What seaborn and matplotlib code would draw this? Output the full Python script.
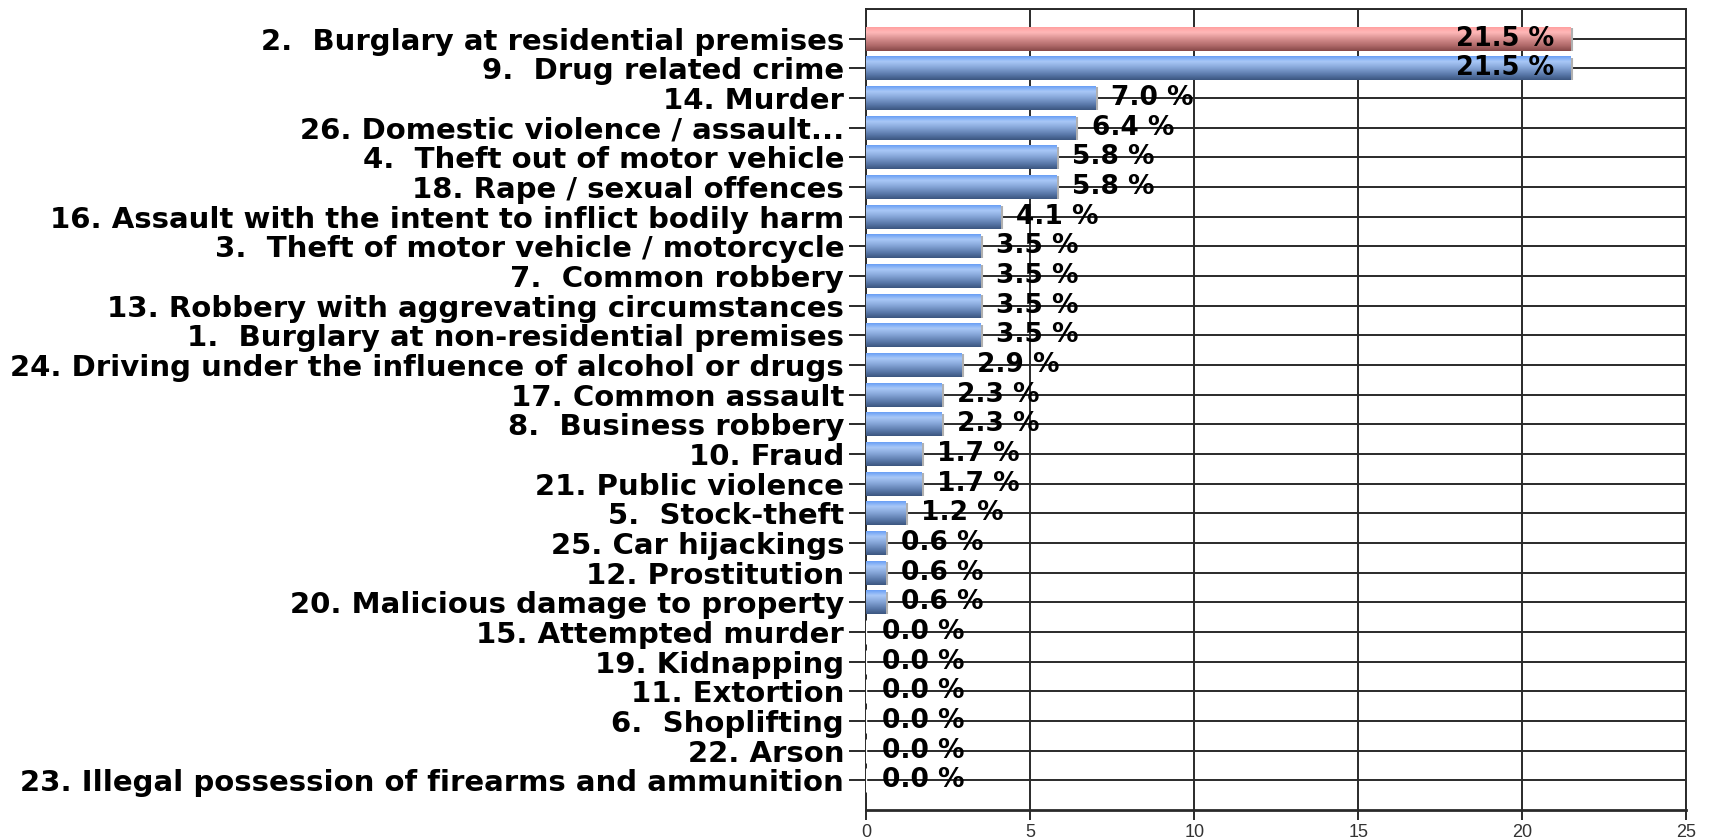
import numpy as np
import pandas as pd
import matplotlib
matplotlib.use("Agg")
import matplotlib.pyplot as plt
from matplotlib.colors import to_rgb
import seaborn as sns

categories = [
    "2.  Burglary at residential premises",
    "9.  Drug related crime",
    "14. Murder",
    "26. Domestic violence / assault...",
    "4.  Theft out of motor vehicle",
    "18. Rape / sexual offences",
    "16. Assault with the intent to inflict bodily harm",
    "3.  Theft of motor vehicle / motorcycle",
    "7.  Common robbery",
    "13. Robbery with aggrevating circumstances",
    "1.  Burglary at non-residential premises",
    "24. Driving under the influence of alcohol or drugs",
    "17. Common assault",
    "8.  Business robbery",
    "10. Fraud",
    "21. Public violence",
    "5.  Stock-theft",
    "25. Car hijackings",
    "12. Prostitution",
    "20. Malicious damage to property",
    "15. Attempted murder",
    "19. Kidnapping",
    "11. Extortion",
    "6.  Shoplifting",
    "22. Arson",
    "23. Illegal possession of firearms and ammunition",
]
values = [21.5, 21.5, 7.0, 6.4, 5.8, 5.8, 4.1, 3.5, 3.5, 3.5, 3.5, 2.9, 2.3, 2.3,
          1.7, 1.7, 1.2, 0.6, 0.6, 0.6, 0.0, 0.0, 0.0, 0.0, 0.0, 0.0]
highlighted = ["2.  Burglary at residential premises"]
x_ticks = [0, 5, 10, 15, 20, 25]

df = pd.DataFrame({"category": categories, "value": values})
df["group"] = ["hi" if c in highlighted else "lo" for c in categories]

sns.set_style("white")
plt.rcParams["font.family"] = ["DejaVu Sans"]

fig = plt.figure(figsize=(17.09, 8.40), dpi=100)
ax = fig.add_axes([0.507, 0.0357, 0.4795, 0.9536])

palette = {"hi": "#e07a7a", "lo": "#5b86cc"}
sns.barplot(data=df, x="value", y="category", hue="group", palette=palette,
            orient="h", width=0.81, dodge=False, legend=False, ax=ax, zorder=3)

grad_blue = ["#5d97f5", "#a9c8f7", "#86a6d8", "#5a79aa", "#3b5680"]
grad_red = ["#ff9c9c", "#ffb8b8", "#d89090", "#b06a6a", "#874848"]

def make_grad(stops, n=64):
    cols = np.array([to_rgb(c) for c in stops])
    pos = np.array([0.0, 0.25, 0.5, 0.78, 1.0])
    t = np.linspace(0, 1, n)
    arr = np.stack([np.interp(t, pos, cols[:, k]) for k in range(3)], axis=-1)
    return arr[:, None, :]

g_blue = make_grad(grad_blue)
g_red = make_grad(grad_red)

for p in list(ax.patches):
    w = p.get_width()
    if w <= 0:
        continue
    x0 = p.get_x()
    y0 = p.get_y()
    h = p.get_height()
    fc = p.get_facecolor()
    is_red = fc[0] > fc[2]
    img = g_red if is_red else g_blue
    p.set_facecolor("none")
    p.set_edgecolor("none")
    im = ax.imshow(img, extent=(x0, x0 + w, y0 + h, y0), origin="upper",
                   aspect="auto", zorder=3, interpolation="bilinear")
    im.set_clip_path(p)
    ax.plot([x0 + w + 0.03, x0 + w + 0.03], [y0 + 0.05, y0 + h], color="#b0b0b0",
            lw=1.5, zorder=2.9, solid_capstyle="butt")

ax.set_xlim(0, 25)
ax.set_ylim(len(categories), -1)

for i, v in enumerate(values):
    txt = f"{v:.1f} %"
    if v > 20:
        ax.annotate(txt, (v, i), xytext=(-12, 0), textcoords="offset points",
                    ha="right", va="center", fontsize=18.5, fontweight="bold",
                    color="black", zorder=5)
    else:
        ax.annotate(txt, (v, i), xytext=(11, 0), textcoords="offset points",
                    ha="left", va="center", fontsize=19, fontweight="bold",
                    color="black", zorder=5)

for xv in x_ticks:
    ax.axvline(xv, color="#2a2a2a", lw=1.4, zorder=1)
for i in range(len(categories)):
    ax.axhline(i, color="#2a2a2a", lw=1.4, zorder=1)
ax.axhline(-1, color="#2a2a2a", lw=1.4, zorder=1)

for s in ax.spines.values():
    s.set_visible(True)
    s.set_color("#2a2a2a")
    s.set_linewidth(1.4)
ax.spines["bottom"].set_linewidth(2.0)

ax.set_xticks(x_ticks)
ax.set_xticklabels([str(t) for t in x_ticks], fontsize=13, color="#333333",
                   family=["Liberation Sans Narrow", "Liberation Sans", "DejaVu Sans"])
ax.set_yticks(range(len(categories)))
ax.set_yticklabels(categories, fontsize=21, fontweight="bold", color="black")
ax.tick_params(axis="y", length=12, width=1.4, color="#2a2a2a", left=True, pad=4)
ax.tick_params(axis="x", length=7, width=1.4, color="#2a2a2a", bottom=True, pad=3)
ax.set_xlabel("")
ax.set_ylabel("")

fig.savefig("out.png", dpi=100)
